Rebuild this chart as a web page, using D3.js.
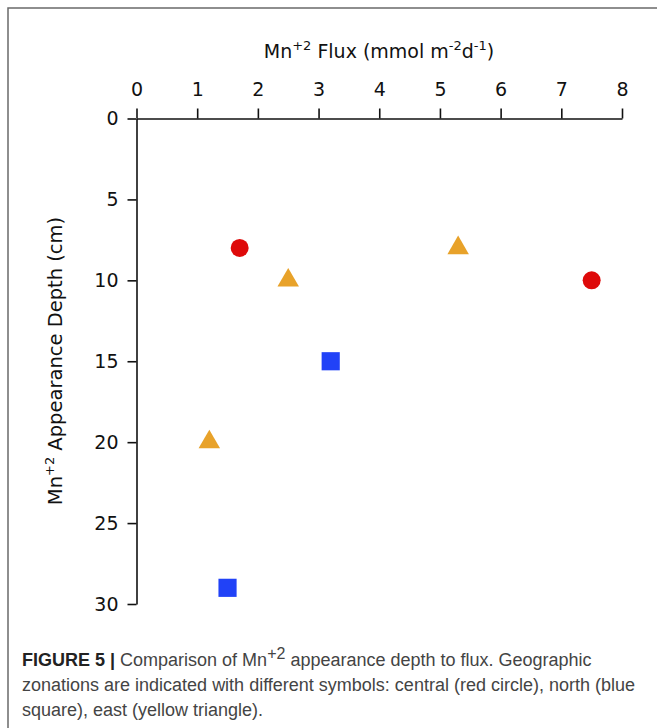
<!DOCTYPE html>
<html><head><meta charset="utf-8">
<script src="https://cdn.jsdelivr.net/npm/d3@7"></script>
<style>body{margin:0;background:#fff}svg{display:block}</style>
</head><body>
<svg id="c" width="657" height="728"></svg>
<script>
const xTicks = [0,1,2,3,4,5,6,7,8];
const yTicks = [0,5,10,15,20,25,30];
const centralFlux = [1.7, 7.5];
const centralDepth = [8, 10];
const northFlux = [3.2, 1.5];
const northDepth = [15, 29];
const eastFlux = [2.5, 5.3, 1.2];
const eastDepth = [10, 8, 20];
const seriesNames = ["central","north","east"];

const svg = d3.select("#c");
const x = d3.scaleLinear().domain([0,8]).range([136.5,622]);
const y = d3.scaleLinear().domain([0,30]).range([118.5,604]);

// frame
svg.append("path").attr("d","M8,728V8H657").attr("fill","none").attr("stroke","#6a6a6a").attr("stroke-width",1.5);

const tickFont = "'DejaVu Sans', sans-serif";
const xa = svg.append("g").attr("transform",`translate(0,${y(0)})`)
  .call(d3.axisTop(x).tickValues(xTicks).tickSize(10).tickSizeOuter(0).tickPadding(13).tickFormat(d3.format("d")));
const ya = svg.append("g").attr("transform",`translate(${x(0)},0)`)
  .call(d3.axisLeft(y).tickValues(yTicks).tickSize(9).tickSizeOuter(0).tickPadding(9).tickFormat(d3.format("d")));
[xa,ya].forEach(a=>{
  a.selectAll("path,line").attr("stroke","#111").attr("stroke-width",1.6);
  a.selectAll("text").attr("fill","#111").attr("font-family",tickFont).attr("font-size",19);
});

// x title
const xt = svg.append("text").attr("x",379).attr("y",58).attr("text-anchor","middle")
  .attr("font-family",tickFont).attr("font-size",19).attr("fill","#111");
xt.append("tspan").text("Mn");
xt.append("tspan").attr("dy",-8).attr("font-size",13).text("+2");
xt.append("tspan").attr("dy",8).text(" Flux (mmol m");
xt.append("tspan").attr("dy",-8).attr("font-size",13).text("-2");
xt.append("tspan").attr("dy",8).text("d");
xt.append("tspan").attr("dy",-8).attr("font-size",13).text("-1");
xt.append("tspan").attr("dy",8).text(")");

// y title
const yt = svg.append("text").attr("transform","translate(62,361) rotate(-90)").attr("text-anchor","middle")
  .attr("font-family",tickFont).attr("font-size",19.5).attr("fill","#111");
yt.append("tspan").text("Mn");
yt.append("tspan").attr("dy",-8).attr("font-size",13).text("+2");
yt.append("tspan").attr("dy",8).text(" Appearance Depth (cm)");

// markers
const series = [
  {name:"central", flux:centralFlux, depth:centralDepth, type:d3.symbolCircle, size:254, color:"#de0a0a"},
  {name:"north", flux:northFlux, depth:northDepth, type:d3.symbolSquare, size:330, color:"#2142f7"},
  {name:"east", flux:eastFlux, depth:eastDepth, type:d3.symbolTriangle, size:200, color:"#e8a22a"}
];
series.forEach(s=>{
  svg.append("g").selectAll("path").data(s.flux.map((f,i)=>[f,s.depth[i]])).join("path")
    .attr("transform",d=>`translate(${x(d[0])},${y(d[1])})`)
    .attr("d",d3.symbol().type(s.type).size(s.size)).attr("fill",s.color);
});

// caption
const capFont = "'Liberation Sans', Arial, sans-serif";
const cap = svg.append("g").attr("font-family",capFont).attr("font-size",18).attr("fill","#444");
const l1 = cap.append("text").attr("x",22).attr("y",666);
l1.append("tspan").attr("font-weight","bold").attr("fill","#222").text("FIGURE 5 | ");
l1.append("tspan").text("Comparison of Mn");
l1.append("tspan").attr("dy",-7).attr("font-size",16).text("+2");
l1.append("tspan").attr("dy",7).text(" appearance depth to flux. Geographic");
cap.append("text").attr("x",22).attr("y",691).text("zonations are indicated with different symbols: central (red circle), north (blue");
cap.append("text").attr("x",22).attr("y",716).text("square), east (yellow triangle).");
</script>
</body></html>
